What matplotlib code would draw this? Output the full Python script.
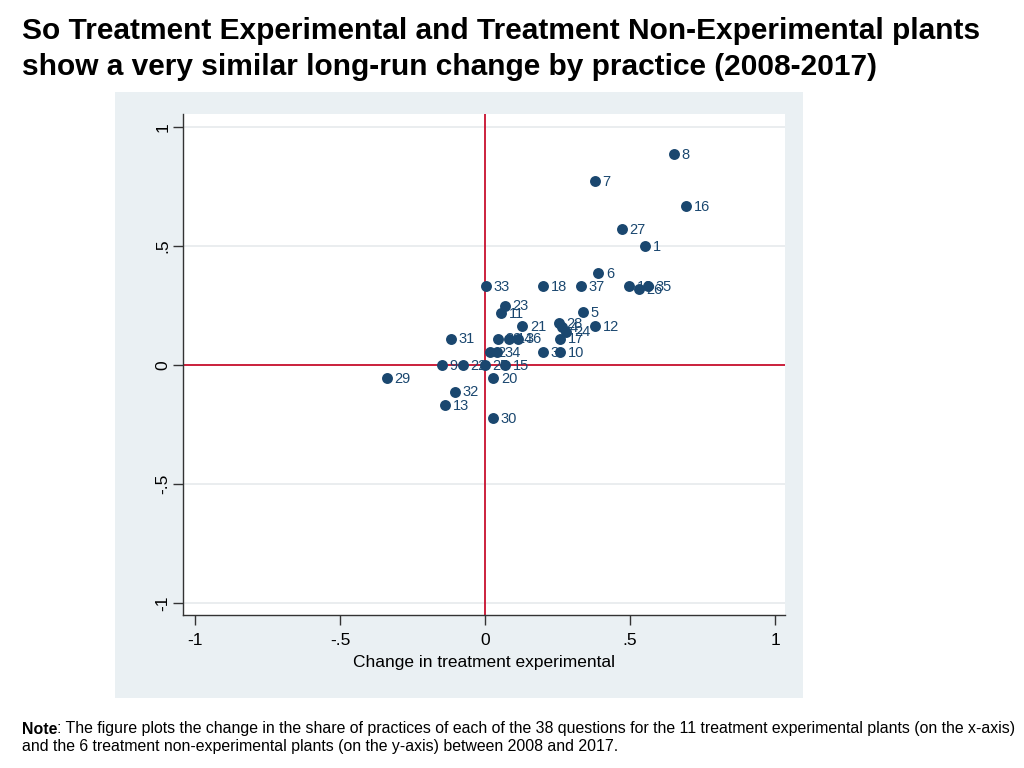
import matplotlib
matplotlib.use("Agg")
import matplotlib.pyplot as plt
from matplotlib.patches import Rectangle
from matplotlib import font_manager

names = {f.name for f in font_manager.fontManager.ttflist}
narrow = 'Liberation Sans Narrow' if 'Liberation Sans Narrow' in names else 'Liberation Sans'

labels = ["1", "3", "5", "6", "7", "8", "9", "10", "11", "12", "13", "15", "16", "17",
          "18", "20", "21", "22", "23", "24", "25", "26", "27", "28", "29", "30", "31",
          "32", "33", "34", "35", "36", "37", "19", "4", "38", "14", "2"]
x_exp = [0.552, 0.200, 0.338, 0.390, 0.379, 0.652, -0.148, 0.259, 0.055, 0.379, -0.138,
         0.069, 0.693, 0.259, 0.200, 0.028, 0.128, -0.076, 0.069, 0.280, 0.000, 0.531,
         0.472, 0.255, -0.338, 0.028, -0.117, -0.103, 0.003, 0.041, 0.562, 0.114, 0.331,
         0.497, 0.267, 0.045, 0.083, 0.017]
y_nonexp = [0.500, 0.055, 0.222, 0.387, 0.773, 0.887, 0.000, 0.055, 0.218, 0.164, -0.167,
            0.000, 0.667, 0.111, 0.333, -0.055, 0.164, 0.000, 0.250, 0.140, 0.000, 0.320,
            0.571, 0.176, -0.055, -0.222, 0.111, -0.111, 0.333, 0.055, 0.333, 0.111, 0.333,
            0.333, 0.160, 0.111, 0.111, 0.055]

xticks = [-1, -0.5, 0, 0.5, 1]
xticklabels = ["-1", "-.5", "0", ".5", "1"]
yticks = [-1, -0.5, 0, 0.5, 1]
yticklabels = ["-1", "-.5", "0", ".5", "1"]

title_lines = ["So Treatment Experimental and Treatment Non-Experimental plants",
               "show a very similar long-run change by practice (2008-2017)"]
note_head = "Note"
note_line1 = (": The figure plots the change in the share of practices of each of the 38 questions "
              "for the 11 treatment experimental plants (on the x-axis)")
note_line2 = "and the 6 treatment non-experimental plants (on the y-axis) between 2008 and 2017."
xlabel = "Change in treatment experimental"

navy = "#1a476f"
red = "#c8102e"
panel = "#eaf0f3"

W, H = 1024, 768
fig = plt.figure(figsize=(W / 100, H / 100), dpi=100)
fig.patch.set_facecolor("white")

fig.add_artist(Rectangle((115 / W, 1 - 698 / H), (803 - 115) / W, (698 - 92) / H,
                         transform=fig.transFigure, facecolor=panel, edgecolor="none", zorder=0))

ax = fig.add_axes([183 / W, 1 - 615 / H, (785 - 183) / W, (615 - 114) / H])
ax.set_facecolor("white")
ax.set_xlim(-1.041, 1.034)
ax.set_ylim(-1.05, 1.055)

for yv in yticks:
    ax.axhline(yv, color="#e6eaec", lw=1.2, zorder=1)
ax.axvline(0, color=red, lw=1.3, zorder=2)
ax.axhline(0, color=red, lw=1.3, zorder=2)

ax.scatter(x_exp, y_nonexp, s=62, color=navy, zorder=3, linewidths=0)
for xv, yv, lab in zip(x_exp, y_nonexp, labels):
    ax.annotate(lab, (xv, yv), xytext=(5.5, -0.5), textcoords="offset points",
                ha="left", va="center", fontsize=10.5, color=navy,
                family=narrow, zorder=4)

for s in ["top", "right"]:
    ax.spines[s].set_visible(False)
for s in ["left", "bottom"]:
    ax.spines[s].set_color("#333333")
    ax.spines[s].set_linewidth(1.0)

ax.set_xticks(xticks)
ax.set_xticklabels(xticklabels, fontsize=12.5, family=narrow)
ax.set_yticks(yticks)
ax.set_yticklabels(yticklabels, fontsize=12.5, family=narrow, rotation=90, va="center")
ax.tick_params(axis="x", direction="out", length=7, width=1.0, color="#333333", pad=6)
ax.tick_params(axis="y", direction="out", length=7, width=1.0, color="#333333", pad=2)
ax.set_xlabel(xlabel, fontsize=12.5, family=narrow, labelpad=5)

fig.text(22 / W, 1 - 31 / H, title_lines[0],
         fontsize=21.5, fontweight="bold", family="Liberation Sans", va="center", ha="left")
fig.text(22 / W, 1 - 67 / H, title_lines[1],
         fontsize=21.5, fontweight="bold", family="Liberation Sans", va="center", ha="left")

t_head = fig.text(22 / W, 1 - 729 / H, note_head, fontsize=11.4, fontweight="bold",
                  family=narrow, va="center", ha="left")
renderer = fig.canvas.get_renderer()
bb = t_head.get_window_extent(renderer=renderer)
fig.text(bb.x1 / W, 1 - 729 / H, note_line1, fontsize=11.4, family=narrow, va="center", ha="left")
fig.text(22 / W, 1 - 747 / H, note_line2, fontsize=11.4, family=narrow, va="center", ha="left")

fig.savefig("out.png", dpi=100, facecolor="white")
